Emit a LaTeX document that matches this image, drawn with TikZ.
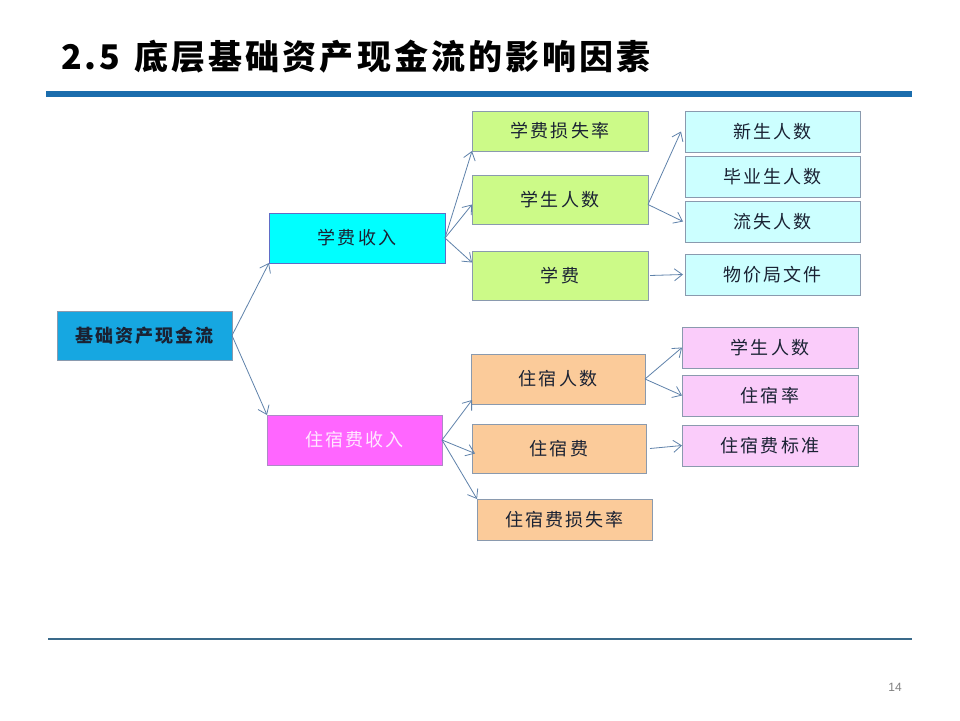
\documentclass[tikz,border=0pt]{standalone}
\usepackage{fontspec}
\setmainfont{Liberation Sans}
\newfontfamily\cjk[LetterSpace=12]{Noto Sans CJK SC}
\newfontfamily\cjktitle[LetterSpace=9]{Noto Sans CJK SC}
\usetikzlibrary{arrows.meta}
\definecolor{rootc}{HTML}{16A7E1}
\definecolor{cyanc}{HTML}{00FFFF}
\definecolor{magc}{HTML}{FF66FF}
\definecolor{greenc}{HTML}{CCFA88}
\definecolor{lcyanc}{HTML}{CCFFFF}
\definecolor{orangec}{HTML}{FBCB9A}
\definecolor{pinkc}{HTML}{FACCFA}
\definecolor{barc}{HTML}{1B6DAD}
\definecolor{linec}{HTML}{3A6A8A}
\definecolor{arrc}{HTML}{5F82AA}
\definecolor{bordc}{HTML}{8A9AAE}
\definecolor{txtc}{HTML}{1A2233}
\tikzset{
  box/.style={draw=bordc, line width=0.8pt, anchor=north west, inner sep=0pt, outer sep=0pt,
    font=\cjk\fontsize{18}{21}\selectfont, text=txtc},
  conn/.style={draw=arrc, line width=0.8pt, -{Straight Barb[length=8pt,width=12pt,line width=0.8pt]}}
}
\begin{document}
\begin{tikzpicture}[x=1pt,y=-1pt]
\useasboundingbox (0,0) rectangle (960,720);
\fill[white] (0,0) rectangle (960,720);
% title
\node[anchor=west, inner sep=0pt, font=\cjktitle\bfseries\fontsize{34}{38}\selectfont, text=black] (title) at (61,57) {2.5\hspace{14pt}底层基础资产现金流的影响因素};
\fill[barc] (46,91) rectangle (912,97);
\draw[linec, line width=1.2pt] (48,639) -- (912,639);
\node[font=\fontsize{12}{14}\selectfont, text=gray] (pg) at (895,687) {14};
% nodes
\node[box, fill=rootc, minimum width=175pt, minimum height=49pt, font=\cjk\bfseries\fontsize{18}{21}\selectfont] (root) at (57,311) {基础资产现金流};
\node[box, fill=cyanc, draw=bordc!70!blue, minimum width=176pt, minimum height=50pt] (xf) at (269,213) {学费收入};
\node[box, fill=magc, draw=bordc!70!magc, text=white!85!magc, minimum width=175pt, minimum height=50pt] (zs) at (267,415) {住宿费收入};
\node[box, fill=greenc, minimum width=176pt, minimum height=40pt] (a1) at (472,111) {学费损失率};
\node[box, fill=greenc, minimum width=176pt, minimum height=49pt] (a2) at (472,175) {学生人数};
\node[box, fill=greenc, minimum width=176pt, minimum height=49pt] (a3) at (472,251) {学费};
\node[box, fill=lcyanc, minimum width=175pt, minimum height=41pt] (b1) at (685,111) {新生人数};
\node[box, fill=lcyanc, minimum width=175pt, minimum height=41pt] (b2) at (685,156) {毕业生人数};
\node[box, fill=lcyanc, minimum width=175pt, minimum height=41pt] (b3) at (685,201) {流失人数};
\node[box, fill=lcyanc, minimum width=175pt, minimum height=41pt] (b4) at (685,254) {物价局文件};
\node[box, fill=orangec, minimum width=174pt, minimum height=50pt] (c1) at (471,354) {住宿人数};
\node[box, fill=orangec, minimum width=174pt, minimum height=49pt] (c2) at (472,424) {住宿费};
\node[box, fill=orangec, minimum width=175pt, minimum height=41pt] (c3) at (477,499) {住宿费损失率};
\node[box, fill=pinkc, minimum width=176pt, minimum height=41pt] (d1) at (682,327) {学生人数};
\node[box, fill=pinkc, minimum width=176pt, minimum height=41pt] (d2) at (682,375) {住宿率};
\node[box, fill=pinkc, minimum width=176pt, minimum height=41pt] (d3) at (682,425) {住宿费标准};
% connectors
\draw[conn] (root.east) -- (xf.south west);
\draw[conn] (root.east) -- (zs.north west);
\draw[conn] (xf.east) -- (a1.south west);
\draw[conn] (xf.east) -- ([yshift=-5pt]a2.west);
\draw[conn] (xf.east) -- ([yshift=13pt]a3.west);
\draw[conn] ([yshift=-5pt]a2.east) -- ([xshift=-4pt]b1.west);
\draw[conn] ([yshift=-5pt]a2.east) -- ([xshift=-2pt]b3.west);
\draw[conn] ([xshift=2pt]a3.east) -- ([xshift=-2pt]b4.west);
\draw[conn] (zs.east) -- ([xshift=1pt,yshift=4pt]c1.south west);
\draw[conn] (zs.east) -- ([xshift=3pt,yshift=-5pt]c2.west);
\draw[conn] (zs.east) -- (c3.north west);
\draw[conn] (c1.east) -- (d1.west);
\draw[conn] (c1.east) -- (d2.west);
\draw[conn] ([xshift=4pt]c2.east) -- (d3.west);
\end{tikzpicture}
\end{document}
